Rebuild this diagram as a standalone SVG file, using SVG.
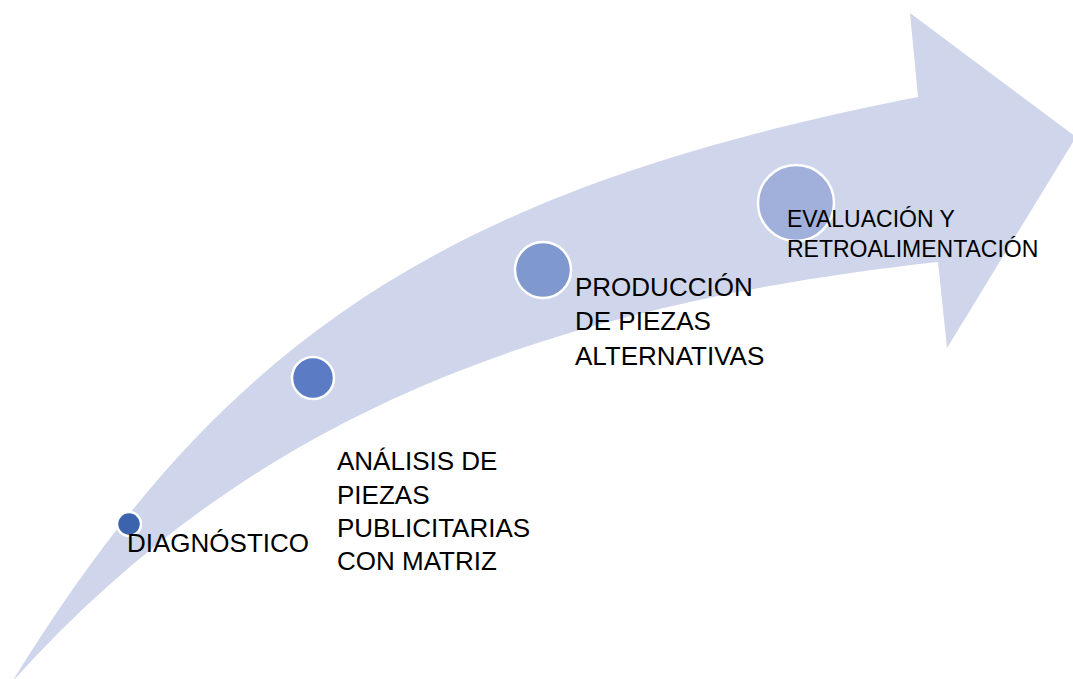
<svg xmlns="http://www.w3.org/2000/svg" width="1073" height="679" viewBox="0 0 1073 679">
<style>
.lbl{font-family:"Liberation Sans",Arial,sans-serif;fill:#000;}
.big{font-size:26px;}
.small{font-size:23px;}
.dot{stroke:#fff;stroke-width:2.5;}
</style>
<rect width="1073" height="679" fill="#fff"/>
<g id="arrow">
<path d="M12,682 C226,334 452,188 918,97 L910,13 L1076,137 L947,348 L938,262 C500,310 230,440 12,682 Z" fill="#CFD5EA"/>
</g>
<g id="connectors"></g>
<g id="node1">
<circle class="dot" cx="129" cy="524" r="12" fill="#3C64AE"/>
<text class="lbl big" x="127" y="552">DIAGNÓSTICO</text>
</g>
<g id="node2">
<circle class="dot" cx="313" cy="378" r="21" fill="#5B7BC4"/>
<text class="lbl big" x="337" y="470">ANÁLISIS DE</text>
<text class="lbl big" x="337" y="504">PIEZAS</text>
<text class="lbl big" x="337" y="537">PUBLICITARIAS</text>
<text class="lbl big" x="337" y="570">CON MATRIZ</text>
</g>
<g id="node3">
<circle class="dot" cx="543" cy="270" r="28" fill="#7F98CE"/>
<text class="lbl big" x="575" y="296">PRODUCCIÓN</text>
<text class="lbl big" x="575" y="330">DE PIEZAS</text>
<text class="lbl big" x="575" y="365">ALTERNATIVAS</text>
</g>
<g id="node4">
<circle class="dot" cx="796" cy="203" r="38" fill="#A1B0DA"/>
<text class="lbl small" x="787" y="227">EVALUACIÓN Y</text>
<text class="lbl small" x="787" y="257">RETROALIMENTACIÓN</text>
</g>
</svg>
